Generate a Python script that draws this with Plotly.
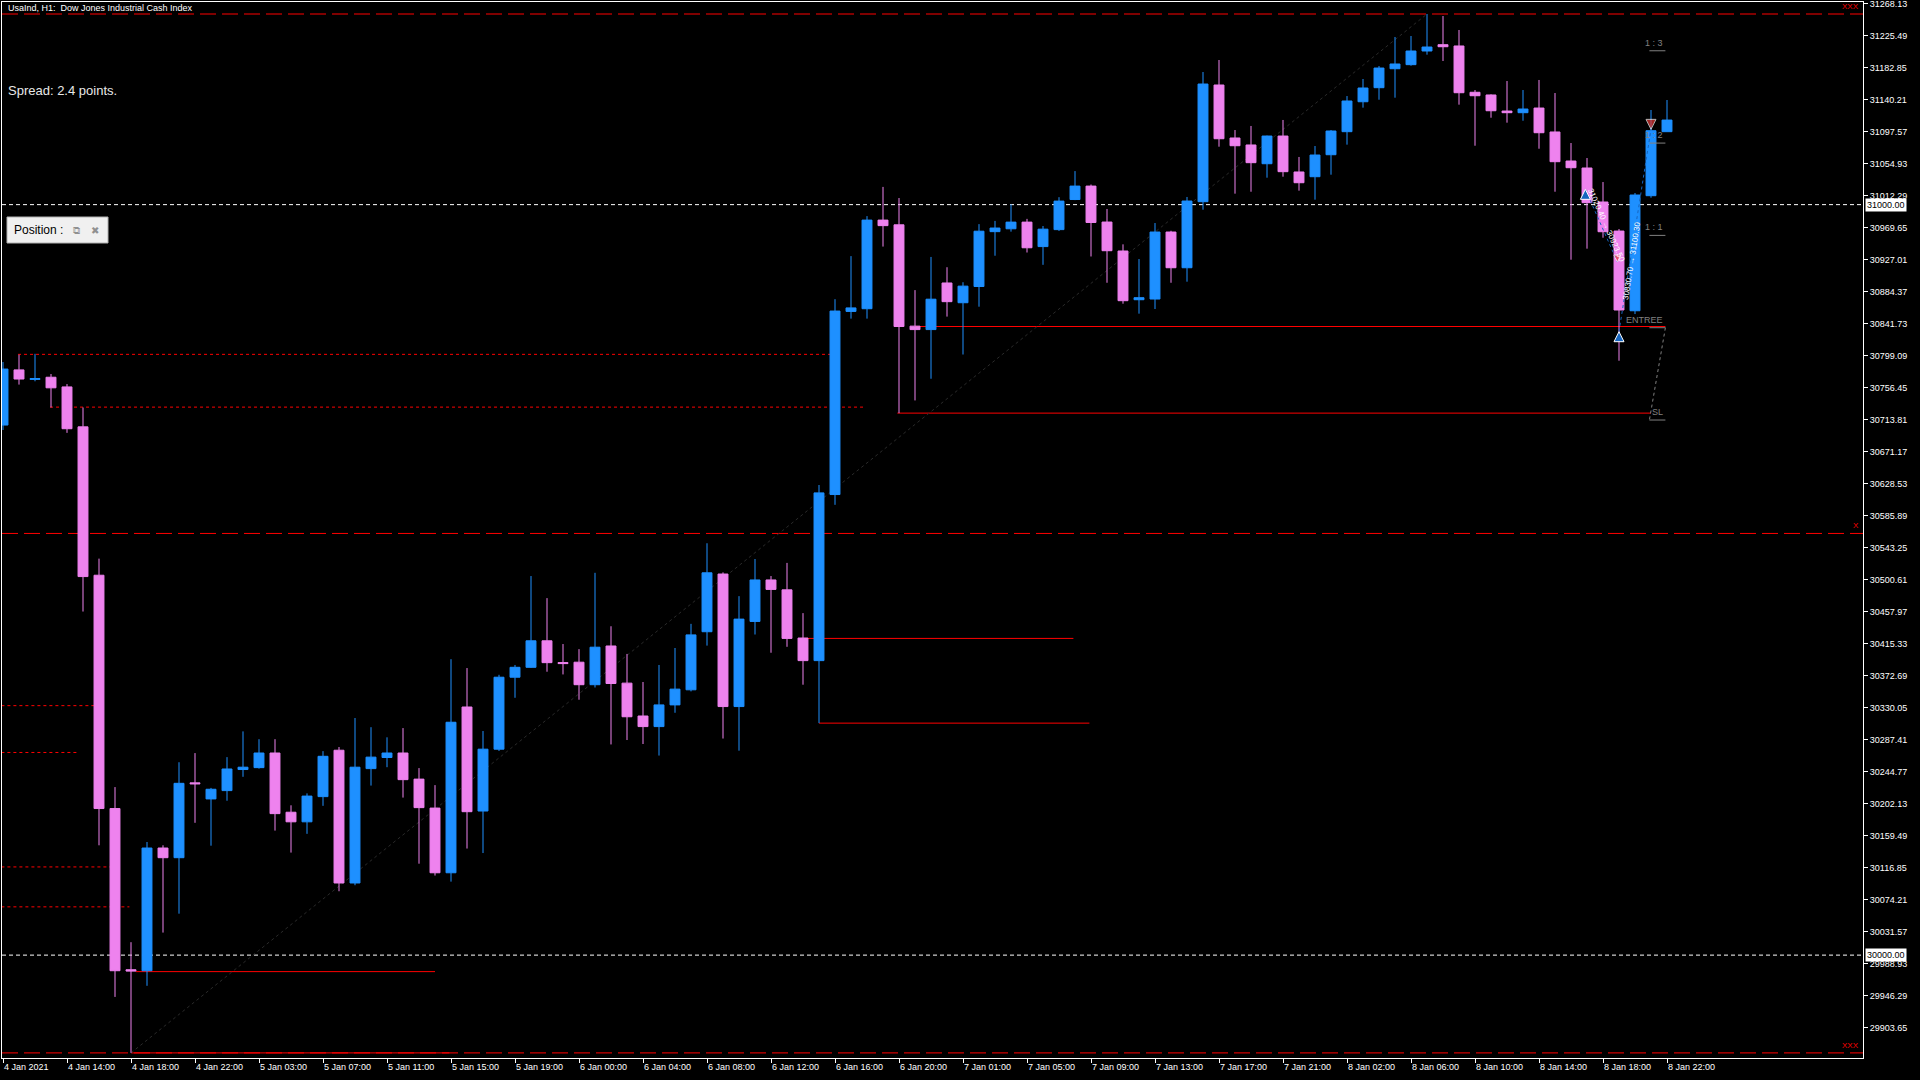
import plotly.graph_objects as go

# USAIND H1 candles, 4 Jan 2021 -> 8 Jan 2021
opens = [30706.3, 30779.8, 30767.1, 30770.0, 30757.1, 30703.9, 30506.2, 30195.3, 29980.5, 29979.2,
         30142.7, 30129.8, 30229.5, 30208.1, 30219.2, 30247.3, 30249.8, 30269.3, 30190.4, 30177.6,
         30211.2, 30273.0, 30096.1, 30248.5, 30263.3, 30269.3, 30234.5, 30195.9, 30109.7, 30330.6,
         30192.0, 30274.4, 30370.3, 30383.5, 30418.8, 30389.8, 30390.3, 30360.3, 30411.9, 30362.4,
         30318.6, 30304.5, 30333.4, 30353.5, 30430.9, 30507.8, 30331.2, 30444.6, 30499.9, 30486.7,
         30422.5, 30392.4, 30613.7, 30857.7, 30861.3, 30979.4, 30973.1, 30838.1, 30833.5, 30895.6,
         30869.3, 30890.9, 30964.0, 30967.8, 30976.7, 30944.1, 30966.7, 31006.8, 31024.7, 30976.8,
         30938.2, 30873.3, 30874.2, 30963.5, 30915.9, 31003.9, 31159.4, 31088.8, 31079.5, 31054.5,
         31091.4, 31043.5, 31037.2, 31066.5, 31097.2, 31137.1, 31155.8, 31181.1, 31186.5, 31204.7,
         31213.1, 31211.4, 31149.7, 31146.1, 31124.7, 31122.5, 31128.7, 31096.8, 31058.1, 31048.8,
         31003.5, 30964.8, 30858.6, 31011.9, 31097.2]
highs = [30790.3, 30800.0, 30801.2, 30774.3, 30760.9, 30729.7, 30528.3, 30223.9, 30017.2, 30150.7,
         30146.3, 30257.0, 30269.2, 30222.8, 30263.8, 30298.1, 30287.7, 30287.7, 30199.6, 30215.5,
         30271.8, 30277.3, 30315.9, 30303.7, 30290.2, 30302.5, 30249.2, 30226.5, 30394.3, 30382.5,
         30298.6, 30373.5, 30386.6, 30505.1, 30475.7, 30414.5, 30407.7, 30509.4, 30438.2, 30401.3,
         30363.9, 30386.6, 30409.2, 30441.4, 30548.8, 30510.0, 30478.3, 30527.8, 30505.1, 30522.6,
         30455.7, 30626.4, 30874.0, 30931.4, 30984.7, 31023.6, 31008.8, 30886.1, 30930.3, 30916.6,
         30896.6, 30974.0, 30978.3, 31000.4, 30981.0, 30971.5, 31009.9, 31044.7, 31026.8, 30994.2,
         30947.1, 30927.5, 30975.5, 30965.2, 31010.2, 31176.7, 31192.7, 31099.4, 31104.8, 31092.0,
         31112.8, 31063.5, 31078.1, 31099.4, 31144.7, 31167.4, 31184.7, 31223.4, 31224.7, 31254.0,
         31251.3, 31232.7, 31152.7, 31147.0, 31164.7, 31152.7, 31166.1, 31148.7, 31082.1, 31062.1,
         31030.1, 30967.5, 31015.5, 31126.1, 31139.4]
lows = [30699.7, 30760.2, 30764.6, 30729.7, 30695.9, 30457.8, 30146.3, 29944.3, 29869.7, 29959.1,
        30030.0, 30055.2, 30176.3, 30145.8, 30205.7, 30237.6, 30248.5, 30165.9, 30136.6, 30161.6,
        30198.9, 30085.1, 30093.1, 30225.9, 30250.4, 30209.9, 30121.8, 30106.0, 30097.9, 30142.0,
        30136.0, 30272.0, 30342.9, 30382.6, 30377.6, 30374.0, 30340.3, 30356.6, 30280.7, 30286.6,
        30281.3, 30265.9, 30322.9, 30351.4, 30412.4, 30288.6, 30272.4, 30427.2, 30402.9, 30410.8,
        30360.3, 30309.1, 30600.0, 30848.1, 30848.1, 30944.1, 30722.2, 30739.1, 30768.0, 30850.8,
        30800.3, 30864.0, 30931.9, 30964.0, 30936.2, 30919.8, 30964.9, 31006.0, 30930.9, 30895.9,
        30868.0, 30854.7, 30860.9, 30895.9, 30897.3, 30993.2, 31077.2, 31014.6, 31017.2, 31035.9,
        31037.2, 31018.6, 31006.6, 31039.9, 31079.9, 31129.2, 31139.8, 31142.5, 31185.1, 31199.8,
        31191.4, 31133.2, 31078.5, 31115.8, 31109.2, 31111.8, 31074.5, 31017.2, 30926.6, 30941.3,
        30955.9, 30792.0, 30854.2, 31009.2, 31097.2]
closes = [30780.9, 30767.6, 30768.2, 30755.9, 30701.4, 30504.4, 30195.3, 29979.2, 29978.8, 30142.7,
          30129.8, 30228.9, 30228.3, 30221.0, 30248.0, 30250.4, 30269.3, 30188.5, 30177.6, 30211.9,
          30264.9, 30096.1, 30250.4, 30263.8, 30269.3, 30233.8, 30196.5, 30109.7, 30310.3, 30191.1,
          30274.4, 30370.3, 30383.5, 30418.8, 30389.7, 30388.5, 30360.3, 30410.3, 30361.9, 30317.6,
          30304.5, 30333.4, 30354.4, 30426.7, 30509.4, 30331.2, 30447.7, 30499.9, 30487.3, 30422.0,
          30392.4, 30615.9, 30858.2, 30862.4, 30979.4, 30972.0, 30837.6, 30833.5, 30874.0, 30870.7,
          30891.4, 30964.6, 30968.8, 30976.7, 30942.5, 30967.3, 31004.7, 31024.7, 30976.2, 30938.6,
          30872.0, 30876.0, 30963.5, 30915.9, 31004.8, 31160.7, 31087.8, 31078.5, 31055.9, 31091.4,
          31043.9, 31029.2, 31066.1, 31098.1, 31138.1, 31155.4, 31182.0, 31187.4, 31204.7, 31210.0,
          31210.4, 31149.1, 31145.1, 31125.1, 31122.5, 31127.4, 31095.8, 31057.2, 31049.2, 31002.6,
          30963.9, 30859.6, 31012.8, 31098.5, 31112.7]

time_labels = ["4 Jan 2021", "4 Jan 14:00", "4 Jan 18:00", "4 Jan 22:00", "5 Jan 03:00", "5 Jan 07:00",
               "5 Jan 11:00", "5 Jan 15:00", "5 Jan 19:00", "6 Jan 00:00", "6 Jan 04:00", "6 Jan 08:00",
               "6 Jan 12:00", "6 Jan 16:00", "6 Jan 20:00", "7 Jan 01:00", "7 Jan 05:00", "7 Jan 09:00",
               "7 Jan 13:00", "7 Jan 17:00", "7 Jan 21:00", "8 Jan 02:00", "8 Jan 06:00", "8 Jan 10:00",
               "8 Jan 14:00", "8 Jan 18:00", "8 Jan 22:00"]
price_ticks = [31268.13, 31225.49, 31182.85, 31140.21, 31097.57, 31054.93, 31012.29, 30969.65,
               30927.01, 30884.37, 30841.73, 30799.09, 30756.45, 30713.81, 30671.17, 30628.53,
               30585.89, 30543.25, 30500.61, 30457.97, 30415.33, 30372.69, 30330.05, 30287.41,
               30244.77, 30202.13, 30159.49, 30116.85, 30074.21, 30031.57, 29988.93, 29946.29,
               29903.65]

# old levels (red dotted), with the bar where they start / end
dotted_levels = [30800.5, 30730.2, 30332.4, 30270.0, 30117.5, 30064.3]
dotted_start = [0.94, 2.94, -0.1, -0.1, -0.1, -0.1]
dotted_end = [51.7, 53.75, 5.75, 4.75, 6.9, 7.9]

# solid red levels
solid_levels = [29978.0, 30422.0, 30309.1, 30837.6, 30722.2, 29869.7]
solid_start = [8.3, 49.9, 51.0, 57.0, 55.9, 8.0]
solid_end = [27.0, 66.9, 67.9, 103.9, 103.0, 27.9]

round_levels = [31000.0, 30000.0]

# position tool on the right
tool_levels = [30713.0, 30836.0, 30959.0, 31082.0, 31205.0]
tool_names = ["SL", "ENTREE", "1 : 1", "1 : 2", "1 : 3"]

# trades (bar, price)
buy_bars = [98.9, 101.0]
buy_prices = [31020.4, 30830.7]
exit_bars = [100.9, 103.0]
exit_prices = [30923.5, 31100.3]

BLUE = "#1E90FF"
PINK = "#EE82EE"
RED = "#FF0000"
FONT = "Liberation Sans, Arial, sans-serif"

W, H = 1920, 1080
PL, PR, PT, PB = 2, 1863, 2, 1058


def px(xp):
    return (xp - PL) / (PR - PL)


def py(yp):
    return (PB - yp) / (PB - PT)


n = len(opens)
bars = list(range(n))

fig = go.Figure()

fig.add_trace(go.Candlestick(
    x=bars, open=opens, high=highs, low=lows, close=closes,
    increasing=dict(line=dict(color=BLUE, width=1), fillcolor=BLUE),
    decreasing=dict(line=dict(color=PINK, width=1), fillcolor=PINK),
    whiskerwidth=0, showlegend=False, hoverinfo="skip"
))

shapes = []
hi = max(highs)
lo = min(lows)
mid = (hi + lo) / 2

# range high / low / middle
for lvl in [hi, lo, mid]:
    shapes.append(dict(type="line", xref="paper", yref="y", x0=0, x1=1, y0=lvl, y1=lvl,
                       line=dict(color=RED, width=1, dash="16px,6px"), layer="below"))
# round numbers
for lvl in round_levels:
    shapes.append(dict(type="line", xref="paper", yref="y", x0=0, x1=1, y0=lvl, y1=lvl,
                       line=dict(color="white", width=1, dash="4px,3px"), layer="below"))
for lvl, a, b in zip(dotted_levels, dotted_start, dotted_end):
    shapes.append(dict(type="line", xref="x", yref="y", x0=a, x1=b, y0=lvl, y1=lvl,
                       line=dict(color=RED, width=1, dash="3px,3px"), layer="below"))
for lvl, a, b in zip(solid_levels, solid_start, solid_end):
    shapes.append(dict(type="line", xref="x", yref="y", x0=a, x1=b, y0=lvl, y1=lvl,
                       line=dict(color=RED, width=1), layer="below"))

# trend line, swing low to swing high
i_lo = lows.index(lo)
i_hi = highs.index(hi)
shapes.append(dict(type="line", xref="x", yref="y", x0=i_lo, x1=i_hi, y0=lo, y1=hi,
                   line=dict(color="#2a2a2a", width=1, dash="dot"), layer="below"))

# position tool underlines + SL/entry connector
for lvl in tool_levels:
    shapes.append(dict(type="line", xref="x", yref="y", x0=102.9, x1=103.9, y0=lvl, y1=lvl,
                       line=dict(color="#808080", width=1)))
shapes.append(dict(type="line", xref="x", yref="y", x0=103.9, x1=102.9,
                   y0=tool_levels[1], y1=tool_levels[0],
                   line=dict(color="#808080", width=1, dash="dot")))

# "Position" panel
shapes.append(dict(type="rect", xref="paper", yref="paper", x0=px(7), x1=px(108), y0=py(243), y1=py(217),
                   fillcolor="#f0f0f0", line=dict(color="#b0b0b0", width=1)))

# trade paths
for b0, p0, b1, p1 in zip(buy_bars, buy_prices, exit_bars, exit_prices):
    fig.add_trace(go.Scatter(x=[b0, b1], y=[p0, p1], mode="lines",
                             line=dict(color="#1565C0", width=1, dash="dot"),
                             showlegend=False, hoverinfo="skip"))
fig.add_trace(go.Scatter(x=buy_bars, y=buy_prices, mode="markers",
                         marker=dict(symbol="arrow-up", size=10, color="#1565C0",
                                     line=dict(color="white", width=1)),
                         showlegend=False, hoverinfo="skip"))
fig.add_trace(go.Scatter(x=exit_bars, y=exit_prices, mode="markers",
                         marker=dict(symbol="arrow-down", size=[7, 10], color="#E53935",
                                     line=dict(color="white", width=1)),
                         showlegend=False, hoverinfo="skip"))

ann = []
ann.append(dict(xref="paper", yref="paper", x=px(6), y=py(8), xanchor="left", yanchor="middle",
                text="UsaInd, H1:  Dow Jones Industrial Cash Index", showarrow=False,
                font=dict(family=FONT, size=9, color="white")))
ann.append(dict(xref="paper", yref="paper", x=px(6), y=py(91), xanchor="left", yanchor="middle",
                text="Spread: 2.4 points.", showarrow=False,
                font=dict(family=FONT, size=13, color="#e8e8e8")))
ann.append(dict(xref="paper", yref="paper", x=px(12), y=py(230), xanchor="left", yanchor="middle",
                text="Position :", showarrow=False, font=dict(family=FONT, size=12, color="black")))
ann.append(dict(xref="paper", yref="paper", x=px(76), y=py(230), xanchor="center", yanchor="middle",
                text="⧉", showarrow=False, font=dict(family="DejaVu Sans", size=10, color="#909090")))
ann.append(dict(xref="paper", yref="paper", x=px(95), y=py(230), xanchor="center", yanchor="middle",
                text="✖", showarrow=False, font=dict(family="DejaVu Sans", size=10, color="#909090")))

# price boxes on the axis
for lvl in round_levels:
    ann.append(dict(xref="paper", yref="y", x=1, y=lvl, xanchor="left", yanchor="middle", xshift=2,
                    text=f"{lvl:.2f}", showarrow=False, bgcolor="white", borderpad=1,
                    font=dict(family=FONT, size=9, color="black")))

# line tags
for lvl, tag in [(hi, "XXX"), (lo, "XXX"), (mid, "X")]:
    ann.append(dict(xref="paper", yref="y", x=1, y=lvl, xanchor="right", yanchor="bottom", xshift=-2, yshift=1,
                    text=tag, showarrow=False, font=dict(family=FONT, size=8, color=RED)))

# tool labels
for lvl, name in zip(tool_levels, tool_names):
    ann.append(dict(xref="x", yref="y", x=103.9, y=lvl, xanchor="right", yanchor="bottom", yshift=1,
                    text=name, showarrow=False, font=dict(family=FONT, size=9, color="#808080")))

# trade comments
ann.append(dict(xref="x", yref="y", x=(buy_bars[0] + exit_bars[0]) / 2 + 0.3,
                y=(buy_prices[0] + exit_prices[0]) / 2, textangle=66,
                text=f"{buy_prices[0]:.2f} → {exit_prices[0]:.2f}", showarrow=False,
                font=dict(family=FONT, size=8, color="white")))
ann.append(dict(xref="x", yref="y", x=(buy_bars[1] + exit_bars[1]) / 2 - 0.2,
                y=(buy_prices[1] + exit_prices[1]) / 2 - 40, textangle=-81,
                text=f"{buy_prices[1]:.2f} → {exit_prices[1]:.2f}", showarrow=False,
                font=dict(family=FONT, size=8, color="white")))

fig.update_layout(
    width=W, height=H,
    margin=dict(l=PL, r=W - PR, t=PT, b=H - PB, pad=0),
    paper_bgcolor="black", plot_bgcolor="black",
    showlegend=False,
    boxgap=0.38, boxgroupgap=0,
    shapes=shapes, annotations=ann,
    font=dict(family=FONT, size=9, color="white"),
)
fig.update_xaxes(
    range=[-0.0625, 116.25], rangeslider_visible=False,
    showgrid=False, zeroline=False,
    showline=True, linecolor="white", linewidth=1, mirror=True,
    ticks="outside", ticklen=4, tickcolor="white",
    tickvals=list(range(0, n, 4)), ticktext=time_labels,
    ticklabelposition="outside right",
    tickfont=dict(family=FONT, size=9, color="white"),
    automargin=False,
)
fig.update_yaxes(
    range=[29862.9, 31270.0], side="right",
    showgrid=False, zeroline=False,
    showline=True, linecolor="white", linewidth=1, mirror=True,
    ticks="outside", ticklen=4, tickcolor="white",
    tickvals=price_ticks, ticktext=[f"{v:.2f}" for v in price_ticks],
    tickfont=dict(family=FONT, size=9, color="white"),
    ticklabeloverflow="allow",
    automargin=False,
)

# page margin off so the 1920x1080 figure sits at the window origin
fig.write_html("out.html", config={"displayModeBar": False},
               post_script="document.body.style.margin='0px';document.body.style.background='black';")
